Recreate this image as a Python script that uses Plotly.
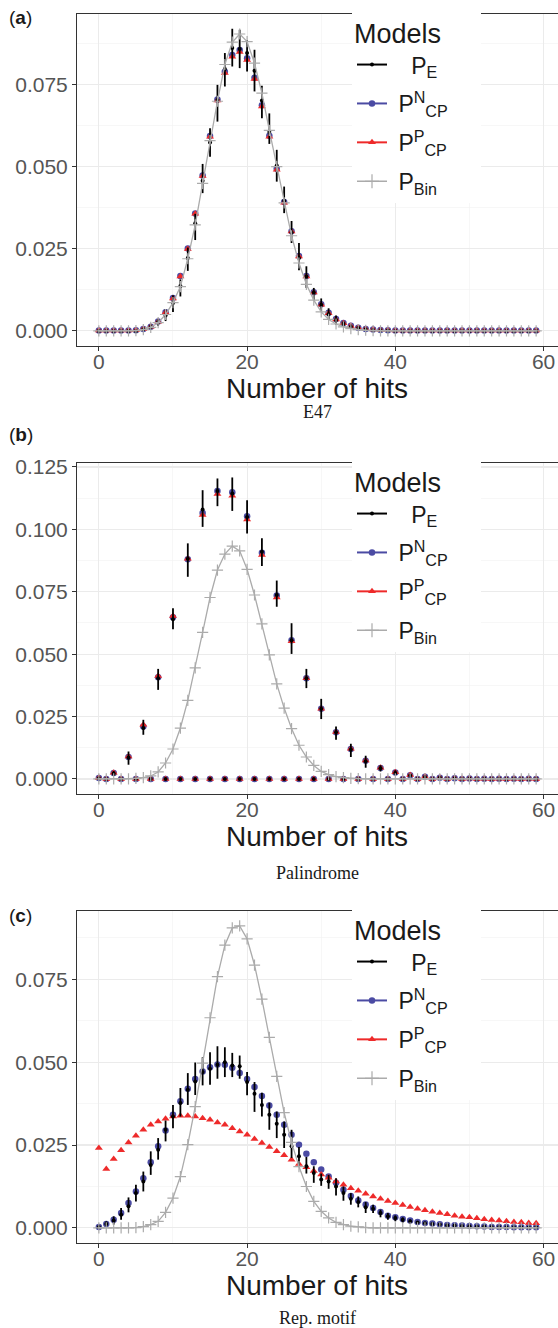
import plotly.graph_objects as go

# ---------------- data ----------------
hits = list(range(60))

# Panel (a) : E47
pe_a = [0, 0, 0, 0, 0, 0, 0.0005, 0.0012, 0.0027, 0.0047,
        0.0085, 0.0137, 0.0222, 0.0328, 0.0458, 0.0574, 0.0704, 0.0798, 0.0862, 0.0859,
        0.0847, 0.0793, 0.0702, 0.0606, 0.0504, 0.0397, 0.0301, 0.0222, 0.0166, 0.0117,
        0.0080, 0.0051, 0.0033, 0.0022, 0.0013, 0.0009, 0.0005, 0.0003, 0.0002, 0.0001,
        0, 0, 0, 0, 0, 0, 0, 0, 0, 0, 0, 0, 0, 0, 0, 0, 0, 0, 0, 0]
pe_a_lo = [0, 0, 0, 0, 0, 0, 0.0002, 0.0005, 0.0015, 0.0030,
           0.0058, 0.0105, 0.0183, 0.0277, 0.0420, 0.0531, 0.0638, 0.0745, 0.0806, 0.0801,
           0.0791, 0.0730, 0.0648, 0.0570, 0.0455, 0.0359, 0.0268, 0.0185, 0.0131, 0.0093,
           0.0059, 0.0035, 0.0019, 0.0012, 0.0007, 0.0004, 0.0002, 0.0001, 0.0001, 0.0000,
           0, 0, 0, 0, 0, 0, 0, 0, 0, 0, 0, 0, 0, 0, 0, 0, 0, 0, 0, 0]
pe_a_hi = [0, 0, 0, 0, 0, 0, 0.0008, 0.0020, 0.0036, 0.0066,
           0.0109, 0.0157, 0.0254, 0.0357, 0.0509, 0.0618, 0.0750, 0.0847, 0.0921, 0.0918,
           0.0887, 0.0857, 0.0747, 0.0663, 0.0552, 0.0440, 0.0335, 0.0268, 0.0197, 0.0131,
           0.0099, 0.0069, 0.0047, 0.0030, 0.0020, 0.0014, 0.0008, 0.0005, 0.0003, 0.0002,
           0, 0, 0, 0, 0, 0, 0, 0, 0, 0, 0, 0, 0, 0, 0, 0, 0, 0, 0, 0]
cpn_a = [0.0001, 0.0001, 0.0001, 0.0001, 0.0001, 0.0002, 0.0006, 0.0013, 0.0029, 0.0057,
         0.0100, 0.0167, 0.0251, 0.0358, 0.0474, 0.0594, 0.0705, 0.0790, 0.0841, 0.0856,
         0.0831, 0.0772, 0.0688, 0.0595, 0.0494, 0.0393, 0.0304, 0.0228, 0.0167, 0.0118,
         0.0081, 0.0055, 0.0036, 0.0024, 0.0016, 0.0010, 0.0006, 0.0004, 0.0003, 0.0002,
         0.0001, 0.0001, 0.0001, 0.0001, 0.0001, 0.0001, 0.0001, 0.0001, 0.0001, 0.0001,
         0.0001, 0.0001, 0.0001, 0.0001, 0.0001, 0.0001, 0.0001, 0.0001, 0.0001, 0.0001]
cpp_a = [0.0001, 0.0001, 0.0001, 0.0001, 0.0001, 0.0002, 0.0006, 0.0013, 0.0028, 0.0056,
         0.0099, 0.0166, 0.0250, 0.0357, 0.0472, 0.0592, 0.0702, 0.0786, 0.0836, 0.0850,
         0.0826, 0.0768, 0.0684, 0.0592, 0.0491, 0.0391, 0.0303, 0.0227, 0.0166, 0.0117,
         0.0080, 0.0054, 0.0035, 0.0023, 0.0015, 0.0010, 0.0006, 0.0004, 0.0003, 0.0002,
         0.0001, 0.0001, 0.0001, 0.0001, 0.0001, 0.0001, 0.0001, 0.0001, 0.0001, 0.0001,
         0.0001, 0.0001, 0.0001, 0.0001, 0.0001, 0.0001, 0.0001, 0.0001, 0.0001, 0.0001]
bin_a = [0, 0, 0, 0, 0, 0.0001, 0.0004, 0.0011, 0.0025, 0.0050,
         0.0086, 0.0135, 0.0220, 0.0323, 0.0450, 0.0580, 0.0700, 0.0812, 0.0880, 0.0905,
         0.0882, 0.0816, 0.0725, 0.0611, 0.0501, 0.0390, 0.0290, 0.0207, 0.0142, 0.0094,
         0.0058, 0.0035, 0.0021, 0.0012, 0.0007, 0.0004, 0.0002, 0.0001, 0, 0,
         0, 0, 0, 0, 0, 0, 0, 0, 0, 0, 0, 0, 0, 0, 0, 0, 0, 0, 0, 0]

# Panel (b) : Palindrome (only even counts are possible)
pe_b = [0.0003, 0, 0.0022, 0, 0.0086, 0, 0.0204, 0, 0.0404, 0,
        0.0640, 0, 0.0882, 0, 0.1080, 0, 0.1154, 0, 0.1144, 0,
        0.1050, 0, 0.0910, 0, 0.0737, 0, 0.0556, 0, 0.0404, 0,
        0.0281, 0, 0.0187, 0, 0.0118, 0, 0.0071, 0, 0.0043, 0,
        0.0024, 0, 0.0014, 0, 0.0008, 0, 0.0005, 0, 0.0003, 0,
        0.0002, 0, 0.0001, 0, 0.0001, 0, 0.0001, 0, 0, 0]
pe_b_lo = [0.0001, 0, 0.0012, 0, 0.0057, 0, 0.0177, 0, 0.0357, 0,
           0.0600, 0, 0.0810, 0, 0.1010, 0, 0.1093, 0, 0.1074, 0,
           0.0984, 0, 0.0853, 0, 0.0690, 0, 0.0501, 0, 0.0364, 0,
           0.0240, 0, 0.0157, 0, 0.0088, 0, 0.0045, 0, 0.0030, 0,
           0.0015, 0, 0.0007, 0, 0.0003, 0, 0.0002, 0, 0.0001, 0,
           0.0001, 0, 0, 0, 0, 0, 0, 0, 0, 0]
pe_b_hi = [0.0006, 0, 0.0032, 0, 0.0110, 0, 0.0237, 0, 0.0441, 0,
           0.0684, 0, 0.0944, 0, 0.1157, 0, 0.1204, 0, 0.1208, 0,
           0.1117, 0, 0.0964, 0, 0.0795, 0, 0.0624, 0, 0.0441, 0,
           0.0321, 0, 0.0210, 0, 0.0141, 0, 0.0093, 0, 0.0055, 0,
           0.0035, 0, 0.0020, 0, 0.0012, 0, 0.0008, 0, 0.0004, 0,
           0.0003, 0, 0.0002, 0, 0.0002, 0, 0.0001, 0, 0, 0]
cpn_b = [0.0004, 0, 0.0024, 0, 0.0088, 0, 0.0210, 0, 0.0408, 0,
         0.0648, 0, 0.0880, 0, 0.1066, 0, 0.1154, 0, 0.1149, 0,
         0.1053, 0, 0.0906, 0, 0.0735, 0, 0.0556, 0, 0.0404, 0,
         0.0281, 0, 0.0187, 0, 0.0120, 0, 0.0073, 0, 0.0044, 0,
         0.0026, 0, 0.0015, 0, 0.0009, 0, 0.0005, 0, 0.0003, 0,
         0.0002, 0, 0.0001, 0, 0.0001, 0, 0.0001, 0, 0.0001, 0]
cpp_b = [0.0004, 0, 0.0025, 0, 0.0090, 0, 0.0217, 0, 0.0413, 0,
         0.0653, 0, 0.0882, 0, 0.1058, 0, 0.1142, 0, 0.1135, 0,
         0.1040, 0, 0.0897, 0, 0.0727, 0, 0.0552, 0, 0.0404, 0,
         0.0281, 0, 0.0188, 0, 0.0121, 0, 0.0074, 0, 0.0045, 0,
         0.0027, 0, 0.0016, 0, 0.0009, 0, 0.0005, 0, 0.0003, 0,
         0.0002, 0, 0.0001, 0, 0.0001, 0, 0.0001, 0, 0.0001, 0]
bin_b = [0, 0, 0, 0, 0, 0.0002, 0.0005, 0.0012, 0.0028, 0.0064,
         0.0120, 0.0204, 0.0315, 0.0445, 0.0587, 0.0727, 0.0837, 0.0901, 0.0933, 0.0914,
         0.0840, 0.0737, 0.0621, 0.0497, 0.0381, 0.0284, 0.0202, 0.0135, 0.0088, 0.0054,
         0.0030, 0.0017, 0.0009, 0.0005, 0.0002, 0.0001, 0, 0, 0, 0,
         0, 0, 0, 0, 0, 0, 0, 0, 0, 0, 0, 0, 0, 0, 0, 0, 0, 0, 0, 0]

# Panel (c) : Rep. motif
pe_c = [0.0003, 0.0012, 0.0022, 0.0040, 0.0065, 0.0105, 0.0140, 0.0190, 0.0236, 0.0296,
        0.0336, 0.0377, 0.0417, 0.0442, 0.0470, 0.0480, 0.0492, 0.0500, 0.0490, 0.0488,
        0.0440, 0.0405, 0.0371, 0.0341, 0.0314, 0.0281, 0.0246, 0.0216, 0.0186, 0.0166,
        0.0146, 0.0140, 0.0125, 0.0105, 0.0088, 0.0078, 0.0062, 0.0058, 0.0045, 0.0035,
        0.0030, 0.0025, 0.0020, 0.0016, 0.0014, 0.0012, 0.0010, 0.0008, 0.0007, 0.0006,
        0.0005, 0.0004, 0.0004, 0.0003, 0.0003, 0.0002, 0.0002, 0.0002, 0.0001, 0.0001]
pe_c_lo = [0.0001, 0.0005, 0.0010, 0.0025, 0.0047, 0.0080, 0.0110, 0.0160, 0.0206, 0.0261,
           0.0301, 0.0336, 0.0371, 0.0401, 0.0430, 0.0432, 0.0450, 0.0455, 0.0455, 0.0450,
           0.0400, 0.0350, 0.0336, 0.0296, 0.0271, 0.0241, 0.0211, 0.0186, 0.0164, 0.0136,
           0.0127, 0.0118, 0.0098, 0.0082, 0.0070, 0.0062, 0.0045, 0.0045, 0.0032, 0.0025,
           0.0020, 0.0016, 0.0013, 0.0011, 0.0010, 0.0008, 0.0007, 0.0006, 0.0005, 0.0004,
           0.0003, 0.0003, 0.0003, 0.0002, 0.0002, 0.0001, 0.0001, 0.0001, 0.0001, 0.0001]
pe_c_hi = [0.0005, 0.0020, 0.0035, 0.0060, 0.0092, 0.0130, 0.0170, 0.0231, 0.0271, 0.0324,
           0.0371, 0.0422, 0.0467, 0.0499, 0.0515, 0.0530, 0.0548, 0.0545, 0.0528, 0.0520,
           0.0470, 0.0440, 0.0408, 0.0378, 0.0351, 0.0321, 0.0296, 0.0244, 0.0214, 0.0186,
           0.0164, 0.0160, 0.0150, 0.0125, 0.0105, 0.0095, 0.0078, 0.0070, 0.0055, 0.0045,
           0.0038, 0.0032, 0.0026, 0.0021, 0.0018, 0.0015, 0.0013, 0.0010, 0.0009, 0.0008,
           0.0007, 0.0006, 0.0005, 0.0004, 0.0004, 0.0003, 0.0003, 0.0003, 0.0002, 0.0002]
cpn_c = [0.0003, 0.0012, 0.0025, 0.0045, 0.0075, 0.0110, 0.0150, 0.0198, 0.0246, 0.0294,
         0.0341, 0.0382, 0.0420, 0.0449, 0.0472, 0.0485, 0.0493, 0.0492, 0.0483, 0.0467,
         0.0449, 0.0425, 0.0398, 0.0369, 0.0341, 0.0311, 0.0281, 0.0251, 0.0224, 0.0198,
         0.0176, 0.0155, 0.0136, 0.0115, 0.0096, 0.0083, 0.0071, 0.0060, 0.0048, 0.0037,
         0.0032, 0.0027, 0.0022, 0.0018, 0.0015, 0.0013, 0.0011, 0.0009, 0.0008, 0.0007,
         0.0006, 0.0005, 0.0004, 0.0003, 0.0003, 0.0003, 0.0002, 0.0002, 0.0002, 0.0002]
cpp_c = [0.0241, 0.0178, 0.0208, 0.0234, 0.0258, 0.0278, 0.0296, 0.0311, 0.0321, 0.0329,
         0.0336, 0.0338, 0.0338, 0.0336, 0.0331, 0.0326, 0.0318, 0.0311, 0.0301, 0.0291,
         0.0281, 0.0268, 0.0256, 0.0244, 0.0231, 0.0219, 0.0206, 0.0193, 0.0183, 0.0172,
         0.0161, 0.0151, 0.0140, 0.0130, 0.0120, 0.0112, 0.0103, 0.0095, 0.0088, 0.0081,
         0.0075, 0.0069, 0.0063, 0.0058, 0.0053, 0.0049, 0.0045, 0.0041, 0.0037, 0.0034,
         0.0032, 0.0029, 0.0026, 0.0024, 0.0022, 0.0020, 0.0018, 0.0017, 0.0015, 0.0014]
bin_c = [0, 0, 0, 0, 0, 0.0001, 0.0004, 0.0010, 0.0020, 0.0047,
         0.0090, 0.0155, 0.0251, 0.0366, 0.0497, 0.0634, 0.0758, 0.0853, 0.0905, 0.0911,
         0.0872, 0.0793, 0.0690, 0.0575, 0.0457, 0.0348, 0.0258, 0.0185, 0.0125, 0.0080,
         0.0050, 0.0030, 0.0017, 0.0010, 0.0005, 0.0003, 0.0001, 0, 0, 0,
         0, 0, 0, 0, 0, 0, 0, 0, 0, 0, 0, 0, 0, 0, 0, 0, 0, 0, 0, 0]

NB = "\u00a0"
series_names = [NB * 3 + "P<sub>E</sub>", NB + "P<sup>N</sup><sub>CP</sub>",
                NB + "P<sup>P</sup><sub>CP</sub>", NB + "P<sub>Bin</sub>"]
legend_title = "Models" + NB * 5
x_title = "Number of hits"
subtitles = ["E47", "Palindrome", "Rep. motif"]
panel_tags = ["a", "b", "c"]
x_ticks = [0, 20, 40, 60]

# ---------------- styling ----------------
W, H = 558, 1328
SANS = "Liberation Sans, Arial, Helvetica, sans-serif"
SERIF = "Liberation Serif, Times New Roman, serif"
C_E, C_N, C_P, C_BIN = "#000000", "#4b4ba3", "#ee2a2a", "#ababab"

panels = [
    dict(pe=pe_a, lo=pe_a_lo, hi=pe_a_hi, n=cpn_a, p=cpp_a, b=bin_a,
         top=14, bottom=346, yr=[-0.0046, 0.0966], ymax_tick=0.075,
         tag_y=17, title_y=388, sub_y=412, leg_top=8),
    dict(pe=pe_b, lo=pe_b_lo, hi=pe_b_hi, n=cpn_b, p=cpp_b, b=bin_b,
         top=463, bottom=794, yr=[-0.00603, 0.1266], ymax_tick=0.125,
         tag_y=435, title_y=837, sub_y=873, leg_top=457),
    dict(pe=pe_c, lo=pe_c_lo, hi=pe_c_hi, n=cpn_c, p=cpp_c, b=bin_c,
         top=911, bottom=1243, yr=[-0.00455, 0.0956], ymax_tick=0.075,
         tag_y=915, title_y=1285, sub_y=1318, leg_top=905),
]

fig = go.Figure()
layout = dict(template="none", width=W, height=H,
              margin=dict(l=0, r=0, t=0, b=0, autoexpand=False),
              paper_bgcolor="white", plot_bgcolor="white", showlegend=True,
              font=dict(family=SANS))
annotations = []

x_left = 77 / W

for i, pan in enumerate(panels):
    k = "" if i == 0 else str(i + 1)
    xa, ya = "x" + k, "y" + k
    leg = "legend" + k
    err_plus = [h - v for h, v in zip(pan["hi"], pan["pe"])]
    err_minus = [v - l for v, l in zip(pan["pe"], pan["lo"])]
    fig.add_trace(go.Scatter(x=hits, y=pan["n"], mode="markers", xaxis=xa, yaxis=ya,
                             marker=dict(symbol="circle", size=6.5, color=C_N),
                             showlegend=False, legend=leg))
    fig.add_trace(go.Scatter(x=hits, y=pan["p"], mode="markers", xaxis=xa, yaxis=ya,
                             marker=dict(symbol="triangle-up", size=7, color=C_P),
                             showlegend=False, legend=leg))
    fig.add_trace(go.Scatter(x=hits, y=pan["pe"], mode="markers", xaxis=xa, yaxis=ya,
                             marker=dict(symbol="circle", size=4, color=C_E),
                             error_y=dict(type="data", symmetric=False, array=err_plus,
                                          arrayminus=err_minus, width=0, thickness=1.8,
                                          color=C_E),
                             showlegend=False, legend=leg))
    fig.add_trace(go.Scatter(x=hits, y=pan["b"], mode="lines+markers", xaxis=xa, yaxis=ya,
                             line=dict(color=C_BIN, width=1.3),
                             marker=dict(symbol="cross-thin", size=8,
                                         line=dict(color=C_BIN, width=1.2)),
                             showlegend=False, legend=leg))
    # legend entries (no data; only legend glyphs)
    styles = [
        dict(line=dict(color=C_E, width=2), marker=dict(symbol="circle", size=4, color=C_E)),
        dict(line=dict(color=C_N, width=2), marker=dict(symbol="circle", size=6.5, color=C_N)),
        dict(line=dict(color=C_P, width=2), marker=dict(symbol="triangle-up", size=7, color=C_P)),
        dict(line=dict(color=C_BIN, width=1.5),
             marker=dict(symbol="cross-thin", size=10, line=dict(color=C_BIN, width=1.2))),
    ]
    for j, (nm, st) in enumerate(zip(series_names, styles)):
        fig.add_trace(go.Scatter(x=[None], y=[None], mode="lines+markers", name=nm,
                                 xaxis=xa, yaxis=ya, legend=leg, legendgroup=f"g{i}{j}",
                                 showlegend=True, **st))

    ydom = [1 - pan["bottom"] / H, 1 - pan["top"] / H]
    axis_common = dict(showline=True, linecolor="#333333", linewidth=1,
                       ticks="outside", ticklen=4, tickwidth=1, tickcolor="#333333",
                       showgrid=True, gridcolor="#ebebeb", gridwidth=1.1,
                       zeroline=False, automargin=False,
                       tickfont=dict(family=SANS, size=21, color="#555555"))
    layout["xaxis" + k] = dict(domain=[x_left, 1], range=[-2.95, 61.95], anchor=ya,
                               tickvals=x_ticks, mirror=True, ticklabelstandoff=-7,
                               minor=dict(dtick=10, tick0=0, showgrid=True,
                                          gridcolor="#f2f2f2", gridwidth=0.6, ticks=""),
                               **axis_common)
    yt = []
    v = 0.0
    while v <= pan["ymax_tick"] + 1e-9:
        yt.append(round(v, 3))
        v += 0.025
    layout["yaxis" + k] = dict(domain=ydom, range=pan["yr"], anchor=xa,
                               tickvals=yt, tickformat=".3f", mirror=False,
                               minor=dict(dtick=0.0125, tick0=0, showgrid=True,
                                          gridcolor="#f2f2f2", gridwidth=0.6, ticks=""),
                               **axis_common)
    layout[leg] = dict(x=352 / W, xanchor="left", y=1 - pan["leg_top"] / H, yanchor="top",
                       bgcolor="white", borderwidth=0, itemwidth=30,
                       tracegroupgap=6, traceorder="grouped",
                       title=dict(text=legend_title,
                                  font=dict(family=SANS, size=27, color="#1a1a1a")),
                       font=dict(family=SANS, size=23, color="#1a1a1a"),
                       itemclick=False, itemdoubleclick=False)
    # x-axis title (placed as text so its distance to the tick labels matches)
    annotations.append(dict(text=x_title, x=317 / W, y=1 - pan["title_y"] / H,
                            xref="paper", yref="paper", xanchor="center", yanchor="middle",
                            showarrow=False, font=dict(family=SANS, size=28, color="#1a1a1a")))
    annotations.append(dict(text=f"(<b>{panel_tags[i]}</b>)", x=7 / W, y=1 - pan["tag_y"] / H,
                            xref="paper", yref="paper", xanchor="left", yanchor="middle",
                            showarrow=False, font=dict(family=SANS, size=19, color="#1a1a1a")))
    annotations.append(dict(text=subtitles[i], x=317 / W, y=1 - pan["sub_y"] / H,
                            xref="paper", yref="paper", xanchor="center", yanchor="middle",
                            showarrow=False, font=dict(family=SERIF, size=18, color="#1a1a1a")))

layout["annotations"] = annotations
fig.update_layout(**layout)
fig.write_html("out.html", config={"displayModeBar": False, "staticPlot": True},
               post_script="document.body.style.margin='0px';document.body.style.padding='0px';")
